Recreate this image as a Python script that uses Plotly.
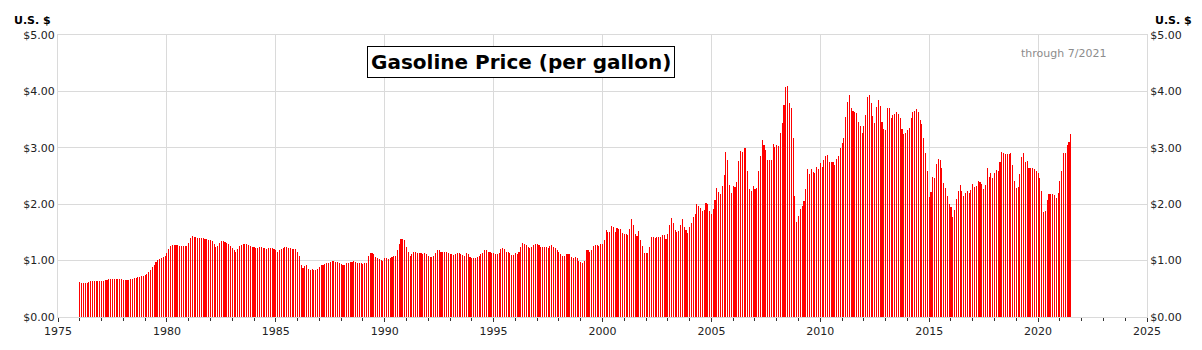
import plotly.graph_objects as go

# Monthly average retail price of regular gasoline, U.S. $ per gallon,
# January 1976 through July 2021 (one list per decade, 12 values per year).
prices_1970s = [
    0.62, 0.61, 0.61, 0.61, 0.61, 0.62, 0.63, 0.64, 0.64, 0.64, 0.64, 0.64,  # 1976
    0.64, 0.64, 0.65, 0.66, 0.67, 0.68, 0.68, 0.68, 0.68, 0.68, 0.68, 0.68,  # 1977
    0.66, 0.66, 0.66, 0.66, 0.67, 0.68, 0.69, 0.70, 0.71, 0.71, 0.72, 0.73,  # 1978
    0.74, 0.76, 0.79, 0.83, 0.88, 0.93, 0.97, 1.01, 1.03, 1.05, 1.06, 1.08,  # 1979
]
prices_1980s = [
    1.14, 1.21, 1.26, 1.27, 1.27, 1.27, 1.27, 1.26, 1.26, 1.26, 1.26, 1.26,  # 1980
    1.31, 1.40, 1.43, 1.42, 1.41, 1.40, 1.40, 1.40, 1.40, 1.39, 1.38, 1.37,  # 1981
    1.36, 1.34, 1.30, 1.24, 1.26, 1.31, 1.35, 1.34, 1.33, 1.31, 1.29, 1.26,  # 1982
    1.22, 1.19, 1.16, 1.21, 1.26, 1.28, 1.29, 1.29, 1.29, 1.28, 1.26, 1.25,  # 1983
    1.24, 1.23, 1.23, 1.24, 1.24, 1.23, 1.22, 1.21, 1.22, 1.23, 1.22, 1.21,  # 1984
    1.18, 1.16, 1.18, 1.21, 1.23, 1.24, 1.24, 1.23, 1.22, 1.21, 1.21, 1.21,  # 1985
    1.16, 1.08, 0.93, 0.87, 0.90, 0.93, 0.86, 0.83, 0.85, 0.84, 0.84, 0.85,  # 1986
    0.88, 0.92, 0.92, 0.94, 0.95, 0.96, 0.98, 1.00, 0.99, 0.98, 0.97, 0.96,  # 1987
    0.94, 0.93, 0.93, 0.95, 0.96, 0.97, 0.98, 0.99, 0.98, 0.96, 0.95, 0.95,  # 1988
    0.94, 0.95, 0.96, 1.08, 1.13, 1.13, 1.11, 1.07, 1.04, 1.03, 1.01, 0.99,  # 1989
]
prices_1990s = [
    1.05, 1.05, 1.03, 1.05, 1.07, 1.09, 1.09, 1.19, 1.30, 1.38, 1.38, 1.36,  # 1990
    1.25, 1.15, 1.09, 1.11, 1.16, 1.16, 1.13, 1.14, 1.14, 1.12, 1.14, 1.12,  # 1991
    1.08, 1.06, 1.06, 1.08, 1.14, 1.18, 1.18, 1.16, 1.16, 1.15, 1.16, 1.14,  # 1992
    1.12, 1.11, 1.10, 1.11, 1.13, 1.13, 1.11, 1.10, 1.09, 1.13, 1.11, 1.07,  # 1993
    1.05, 1.05, 1.05, 1.06, 1.08, 1.11, 1.14, 1.18, 1.18, 1.15, 1.16, 1.14,  # 1994
    1.13, 1.12, 1.12, 1.14, 1.20, 1.23, 1.20, 1.16, 1.15, 1.13, 1.10, 1.10,  # 1995
    1.13, 1.12, 1.16, 1.25, 1.32, 1.30, 1.27, 1.24, 1.23, 1.25, 1.28, 1.29,  # 1996
    1.29, 1.28, 1.25, 1.25, 1.24, 1.25, 1.22, 1.26, 1.27, 1.25, 1.23, 1.19,  # 1997
    1.15, 1.11, 1.08, 1.09, 1.12, 1.11, 1.11, 1.07, 1.05, 1.06, 1.05, 0.99,  # 1998
    0.97, 0.96, 0.99, 1.18, 1.18, 1.15, 1.19, 1.26, 1.28, 1.27, 1.26, 1.30,  # 1999
]
prices_2000s = [
    1.30, 1.37, 1.54, 1.51, 1.50, 1.62, 1.59, 1.51, 1.58, 1.56, 1.56, 1.49,  # 2000
    1.47, 1.48, 1.45, 1.56, 1.73, 1.64, 1.48, 1.43, 1.53, 1.36, 1.26, 1.13,  # 2001
    1.14, 1.13, 1.24, 1.41, 1.42, 1.40, 1.41, 1.42, 1.42, 1.45, 1.45, 1.39,  # 2002
    1.47, 1.64, 1.75, 1.66, 1.54, 1.51, 1.52, 1.63, 1.73, 1.60, 1.54, 1.49,  # 2003
    1.59, 1.67, 1.77, 1.83, 2.01, 1.97, 1.94, 1.88, 1.89, 2.03, 2.01, 1.88,  # 2004
    1.82, 1.92, 2.07, 2.28, 2.22, 2.18, 2.32, 2.51, 2.93, 2.79, 2.34, 2.19,  # 2005
    2.32, 2.31, 2.40, 2.76, 2.95, 2.92, 3.00, 2.99, 2.59, 2.27, 2.24, 2.33,  # 2006
    2.27, 2.29, 2.59, 2.86, 3.13, 3.05, 2.96, 2.78, 2.79, 2.79, 3.07, 3.02,  # 2007
    3.05, 3.03, 3.26, 3.44, 3.76, 4.07, 4.09, 3.79, 3.70, 3.17, 2.15, 1.69,  # 2008
    1.79, 1.92, 1.96, 2.05, 2.27, 2.63, 2.54, 2.63, 2.57, 2.56, 2.66, 2.62,  # 2009
]
prices_2010s = [
    2.73, 2.66, 2.78, 2.86, 2.87, 2.74, 2.74, 2.75, 2.70, 2.80, 2.85, 2.99,  # 2010
    3.09, 3.17, 3.55, 3.82, 3.93, 3.70, 3.65, 3.64, 3.61, 3.45, 3.38, 3.27,  # 2011
    3.38, 3.58, 3.90, 3.94, 3.79, 3.56, 3.44, 3.72, 3.85, 3.75, 3.45, 3.33,  # 2012
    3.31, 3.70, 3.71, 3.53, 3.59, 3.60, 3.63, 3.60, 3.52, 3.33, 3.24, 3.27,  # 2013
    3.31, 3.36, 3.53, 3.64, 3.66, 3.69, 3.63, 3.50, 3.42, 3.17, 2.91, 2.59,  # 2014
    2.12, 2.21, 2.48, 2.47, 2.72, 2.80, 2.79, 2.64, 2.37, 2.29, 2.15, 2.01,  # 2015
    1.95, 1.78, 1.90, 2.10, 2.24, 2.34, 2.23, 2.15, 2.20, 2.24, 2.19, 2.25,  # 2016
    2.35, 2.30, 2.32, 2.42, 2.40, 2.35, 2.27, 2.34, 2.64, 2.49, 2.56, 2.47,  # 2017
    2.55, 2.60, 2.59, 2.75, 2.92, 2.91, 2.89, 2.89, 2.89, 2.91, 2.69, 2.41,  # 2018
    2.29, 2.31, 2.54, 2.84, 2.90, 2.74, 2.76, 2.64, 2.64, 2.64, 2.62, 2.59,  # 2019
]
prices_2020s = [
    2.55, 2.47, 2.23, 1.87, 1.88, 2.08, 2.18, 2.18, 2.18, 2.16, 2.11, 2.20,  # 2020
    2.42, 2.59, 2.90, 2.91, 3.05, 3.11, 3.24,                                # 2021 (Jan-Jul)
]

first_year = 1976
y_ticks = [0, 1, 2, 3, 4, 5]
y_tick_labels = ["$0.00", "$1.00", "$2.00", "$3.00", "$4.00", "$5.00"]
x_ticks = [1975, 1980, 1985, 1990, 1995, 2000, 2005, 2010, 2015, 2020, 2025]

prices = prices_1970s + prices_1980s + prices_1990s + prices_2000s + prices_2010s + prices_2020s
months = [first_year + i / 12 for i in range(len(prices))]

FONT = "DejaVu Sans"
GRID = "#dadada"

fig = go.Figure()
# Thin one-pixel bars; a colour alpha just under 1 keeps plotly from widening
# sub-2px bars, so the gaps between months stay visible.
fig.add_trace(go.Bar(
    x=months, y=prices, width=0.05,
    marker=dict(color="rgba(255,0,0,0.999)", line=dict(width=0)),
    hovertemplate="%{y:$.2f}<extra></extra>",
))
# Empty trace so the mirrored right-hand price axis is drawn
fig.add_trace(go.Scatter(x=[], y=[], yaxis="y2", showlegend=False))

yaxis_common = dict(
    range=[0, 5], tickmode="array", tickvals=y_ticks, ticktext=y_tick_labels,
    ticks="", tickfont=dict(family=FONT, size=11, color="#222"),
    fixedrange=True,
)

fig.update_layout(
    width=1202, height=350,
    margin=dict(l=58, r=55, t=35, b=25),
    paper_bgcolor="white", plot_bgcolor="white",
    showlegend=False, bargap=0,
    font=dict(family=FONT, size=11, color="#222"),
    xaxis=dict(
        range=[1975, 2025], tickvals=x_ticks, ticks="outside", ticklen=4,
        tickcolor="#333", tickfont=dict(family=FONT, size=11, color="#222"),
        showgrid=True, gridcolor=GRID, gridwidth=1,
        showline=True, linecolor=GRID, linewidth=1, mirror=True,
        minor=dict(dtick=1, tick0=1975, ticks="outside", ticklen=3,
                   tickcolor="#333", showgrid=False),
        zeroline=False,
    ),
    yaxis=dict(
        **yaxis_common, side="left",
        showgrid=True, gridcolor=GRID, gridwidth=1,
        showline=True, linecolor=GRID, linewidth=1, zeroline=False,
    ),
    yaxis2=dict(
        **yaxis_common, side="right", overlaying="y",
        showgrid=False, showline=True, linecolor=GRID, linewidth=1, zeroline=False,
    ),
    annotations=[
        dict(text="<b>Gasoline Price (per gallon)</b>", xref="paper", yref="paper",
             x=0.4256, y=0.905, xanchor="center", yanchor="middle", showarrow=False,
             font=dict(family=FONT, size=20, color="black"),
             bordercolor="black", borderwidth=1, borderpad=3, bgcolor="white"),
        dict(text="through 7/2021", xref="paper", yref="paper",
             x=0.923, y=0.934, xanchor="center", yanchor="middle", showarrow=False,
             font=dict(family=FONT, size=11, color="#8c8c8c")),
        dict(text="<b>U.S. $</b>", xref="paper", yref="paper",
             x=-0.0046, y=1.052, xanchor="right", yanchor="middle", showarrow=False,
             font=dict(family=FONT, size=11, color="black")),
        dict(text="<b>U.S. $</b>", xref="paper", yref="paper",
             x=1.0055, y=1.052, xanchor="left", yanchor="middle", showarrow=False,
             font=dict(family=FONT, size=11, color="black")),
    ],
)

fig.write_html("out.html")
